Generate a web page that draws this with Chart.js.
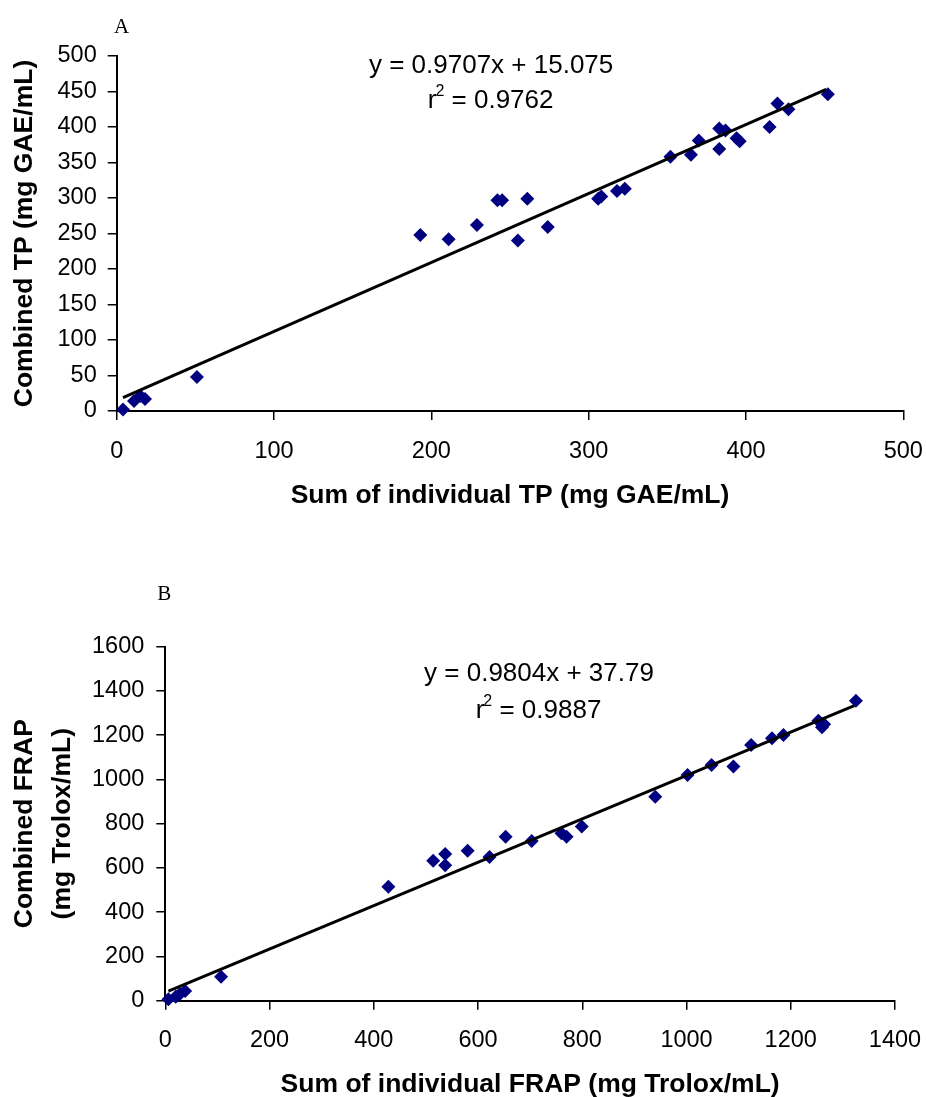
<!DOCTYPE html>
<html>
<head>
<meta charset="utf-8">
<title>Combined vs. individual TP / FRAP</title>
<script src="https://cdn.jsdelivr.net/npm/chart.js@4.4.0/dist/chart.umd.min.js"></script>
<style>
  html, body { margin: 0; padding: 0; background: #fff; }
  .panel { position: absolute; left: 0; width: 926px; }
  #panelA { top: 0; height: 520px; }
  #panelB { top: 520px; height: 577px; }
</style>
</head>
<body>
<div class="panel" id="panelA"><canvas id="chartA" width="926" height="520"></canvas></div>
<div class="panel" id="panelB"><canvas id="chartB" width="926" height="577"></canvas></div>
<script>
/***********************
 * DATA
 ***********************/
// Panel A – total phenolics
var tpSumX      = [4, 11, 15, 18, 51, 193, 211, 229, 242, 245, 255, 261, 274, 306, 308, 318, 323, 352, 365, 370, 383, 387, 383, 394, 396, 415, 420, 427, 452];
var tpCombinedY = [2, 14, 21, 17, 48, 248, 242, 262, 297, 297, 240, 299, 259, 299, 302, 310, 313, 358, 361, 381, 398, 395, 369, 384, 380, 400, 433, 425, 446];
var tpTrendX    = [4, 451];
var tpTrendY    = [18.96, 452.86];
var tpEquation  = "y = 0.9707x + 15.075";
var tpR2        = "0.9762";

// Panel B – FRAP
var frapSumX      = [6, 20, 28, 38, 107, 428, 514, 537, 537, 580, 622, 653, 703, 760, 770, 799, 940, 1002, 1048, 1090, 1124, 1164, 1186, 1253, 1260, 1264, 1325];
var frapCombinedY = [6, 18, 30, 44, 108, 515, 633, 663, 612, 678, 650, 741, 722, 757, 741, 787, 922, 1020, 1065, 1058, 1156, 1186, 1201, 1265, 1236, 1250, 1356];
var frapTrendX    = [6, 1322];
var frapTrendY    = [43.67, 1333.88];
var frapEquation  = "y = 0.9804x + 37.79";
var frapR2        = "0.9887";

/***********************
 * HELPERS
 ***********************/
var FONT = "'Liberation Sans', Arial, sans-serif";
var EQ_SIZE = 26;

function toPoints(xs, ys){
  var out = [];
  for (var i=0;i<xs.length;i++) out.push({ x: xs[i], y: ys[i] });
  return out;
}

// equation, r² and panel letter
var notesPlugin = {
  id: "notes",
  afterDraw: function(chart, args, o){
    var ctx = chart.ctx, sx = chart.scales.x, sy = chart.scales.y, area = chart.chartArea;
    var big = EQ_SIZE + "px " + FONT, small = "16px " + FONT;
    ctx.save();
    ctx.fillStyle = "#000";
    ctx.textBaseline = "middle";

    ctx.textAlign = "center";
    ctx.font = "21px 'Liberation Serif', 'Times New Roman', serif";
    ctx.fillText(o.letter, area.left + o.letterDx, area.top + o.letterDy);

    var cx = sx.getPixelForValue(o.eqAt[0]);
    ctx.font = big;
    ctx.fillText(o.eq, cx, sy.getPixelForValue(o.eqAt[1]));

    // r with superscript 2
    var y2 = sy.getPixelForValue(o.eqAt[2]);
    var rest = " = " + o.r2;
    var wr = ctx.measureText("r").width;
    var wrest = ctx.measureText(rest).width;
    ctx.font = small;
    var ws = ctx.measureText("2").width;
    var x0 = cx - (wr + ws + wrest) / 2;
    ctx.textAlign = "left";
    ctx.font = big;
    ctx.fillText("r", x0, y2);
    ctx.font = small;
    ctx.fillText("2", x0 + wr - 1, y2 - 9);
    ctx.font = big;
    ctx.fillText(rest, x0 + wr + ws - 1, y2);
    ctx.restore();
  }
};

// fixed box size, no extra room for overflowing tick labels
function fixX(h){ return function(s){ s.height = h; s.paddingLeft = 0; s.paddingRight = 0; }; }
function fixY(w){ return function(s){ s.width = w; s.paddingTop = 0; s.paddingBottom = 0; }; }

function axis(min, max, step, title, fit, tickPad, titlePad, titleLH){
  return {
    type: "linear", min: min, max: max,
    ticks: { stepSize: step, color: "#000", padding: tickPad, maxRotation: 0,
             font: { family: FONT, size: 23.5 },
             callback: function(v){ return String(v); } },
    grid: { drawOnChartArea: false, drawTicks: true, tickLength: 9, color: "#000", lineWidth: 1.5 },
    border: { display: true, color: "#000", width: 2 },
    title: { display: true, text: title, color: "#000", padding: titlePad,
             font: { family: FONT, size: 26.5, weight: "bold", lineHeight: titleLH } },
    afterFit: fit
  };
}

function makeChart(id, cfg){
  var ctx = document.getElementById(id).getContext("2d");
  return new Chart(ctx, {
    type: "scatter",
    data: {
      datasets: [
        { // trendline, drawn on top
          data: toPoints(cfg.trendX, cfg.trendY),
          showLine: true, borderColor: "#000", borderWidth: 3,
          pointRadius: 0, fill: false, clip: false
        },
        {
          data: toPoints(cfg.x, cfg.y),
          pointStyle: "rectRot", pointRadius: 7, pointHoverRadius: 7,
          backgroundColor: "#000080", borderColor: "#000080", borderWidth: 0,
          clip: false
        }
      ]
    },
    options: {
      responsive: false,
      animation: false,
      layout: { padding: cfg.padding },
      plugins: {
        legend: { display: false },
        tooltip: { enabled: false },
        notes: cfg.notes
      },
      scales: { x: cfg.xAxis, y: cfg.yAxis }
    },
    plugins: [notesPlugin]
  });
}

/***********************
 * CHARTS
 ***********************/
makeChart("chartA", {
  x: tpSumX, y: tpCombinedY, trendX: tpTrendX, trendY: tpTrendY,
  padding: { top: 56, right: 22.7, left: 0, bottom: 0 },
  xAxis: axis(0, 500, 100, "Sum of individual TP (mg GAE/mL)",
              fixX(109), 17, { top: 0, bottom: 8 }, 1.2),
  yAxis: axis(0, 500, 50, "Combined TP (mg GAE/mL)",
              fixY(116.7), 11, { top: 9, bottom: 0 }, 1.2),
  notes: { letter: "A", letterDx: 5, letterDy: -29, eq: tpEquation, r2: tpR2, eqAt: [238, 486, 437] }
});

makeChart("chartB", {
  x: frapSumX, y: frapCombinedY, trendX: frapTrendX, trendY: frapTrendY,
  padding: { top: 126.7, right: 31, left: 0, bottom: 0 },
  xAxis: axis(0, 1400, 200, "Sum of individual FRAP (mg Trolox/mL)",
              fixX(96.3), 17, { top: 0, bottom: 0 }, 0.94),
  yAxis: axis(0, 1600, 200, ["Combined FRAP", "(mg Trolox/mL)"],
              fixY(165.3), 12, { top: 6, bottom: 0 }, 1.43),
  notes: { letter: "B", letterDx: -1, letterDy: -52, eq: frapEquation, r2: frapR2, eqAt: [717, 1476, 1309] }
});
</script>
</body>
</html>
